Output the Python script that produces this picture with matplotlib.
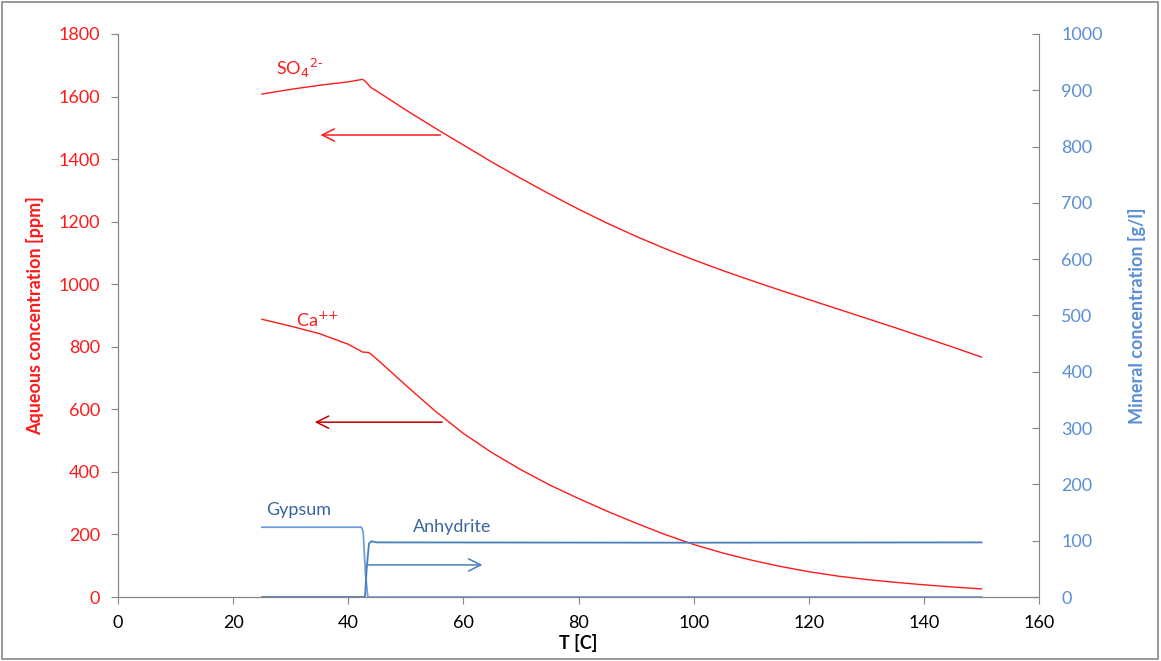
import numpy as np
import matplotlib.pyplot as plt
from matplotlib.patches import Rectangle

plt.rcParams['font.family'] = ['Lato', 'DejaVu Sans']

# aqueous species [ppm]
t_so4 = [25, 30, 35, 40, 42.5, 43, 44, 45, 50, 55, 60, 65, 70, 75, 80, 85, 90, 95,
         100, 105, 110, 115, 120, 125, 130, 135, 140, 145, 150]
so4 = [1608, 1623, 1636, 1647, 1655, 1648, 1628, 1617, 1557, 1500, 1445, 1390, 1338,
       1288, 1240, 1195, 1153, 1114, 1078, 1044, 1012, 981, 951, 921, 891, 861, 830,
       799, 767]

t_ca = [25, 30, 35, 40, 42.5, 43.5, 44, 45, 50, 55, 60, 65, 70, 75, 80, 85, 90, 95,
        100, 105, 110, 115, 120, 125, 130, 135, 140, 145, 150]
ca = [888, 866, 842, 808, 783, 782, 776, 760, 677, 596, 523, 461, 407, 358, 315, 274,
      236, 200, 168, 141, 118, 98, 81, 67, 56, 47, 39, 32, 26]

# minerals [g/l]
t_gyp = [25, 42.3, 42.6, 43.0, 43.4, 150]
gypsum = [124, 124, 115, 40, 0, 0]
t_anh = [25, 42.9, 43.2, 43.6, 44.0, 45, 100, 150]
anhydrite = [0, 0, 50, 95, 99, 97, 96.5, 97]

red = '#FF1A1A'
blue = '#4A7EBB'
lblue = '#5B8ED6'
grey = '#868686'

fig = plt.figure(figsize=(11.61, 6.61), dpi=100)
ax = fig.add_axes([0.1016, 0.0968, 0.7934, 0.8518])
ax2 = ax.twinx()

ax.plot(t_so4, so4, color=red, lw=1.0)
ax.plot(t_ca, ca, color=red, lw=1.0)
ax2.plot(t_gyp, gypsum, color='#6E9FDC', lw=1.3)
ax2.plot(t_anh, anhydrite, color=blue, lw=1.3)

ax.set_xlim(0, 160)
ax.set_ylim(0, 1800)
ax2.set_ylim(0, 1000)
ax.set_xticks(np.arange(0, 161, 20))
ax.set_yticks(np.arange(0, 1801, 200))
ax2.set_yticks(np.arange(0, 1001, 100))

# arrows
arr = dict(arrowstyle='->', mutation_scale=22, lw=1.1)
ax.annotate('', xy=(34.7, 1477), xytext=(56.5, 1477),
            arrowprops=dict(arr, color=red))
ax.annotate('', xy=(33.7, 559), xytext=(56.8, 559),
            arrowprops=dict(arr, color='#C00000'))
ax2.annotate('', xy=(63.8, 57), xytext=(42.9, 57),
             arrowprops=dict(arr, color=blue))

ax.text(27.5, 1690, r'SO$_4$$^{2\text{-}}$', color=red, fontsize=13, va='center')
ax.text(30.9, 885, r'Ca$^{{+}{+}}$', color=red, fontsize=13, va='center')
ax2.text(25.8, 154, 'Gypsum', color='#3A66A0', fontsize=13, va='center')
ax2.text(51.2, 125, 'Anhydrite', color='#3A66A0', fontsize=13, va='center')

for a in (ax, ax2):
    a.spines['top'].set_visible(False)
    for s in a.spines.values():
        s.set_color(grey)
ax.spines['right'].set_visible(False)

ax.tick_params(axis='x', direction='out', length=5, color=grey, labelsize=13,
               labelcolor='black', pad=8)
ax.tick_params(axis='y', direction='out', length=5, color=grey, labelsize=13,
               labelcolor=red, pad=8)
ax2.tick_params(axis='y', direction='in', length=5, color=grey, labelsize=13,
                labelcolor=lblue, pad=16)

ax.set_xlabel('T [C]', fontsize=13, fontweight='bold', labelpad=2)
ax.set_ylabel('Aqueous concentration [ppm]', fontsize=13, fontweight='bold',
              color=red, labelpad=10)
ax2.set_ylabel('Mineral concentration [g/l]', fontsize=13, fontweight='bold',
               color=lblue, labelpad=18)

fig.patches.append(Rectangle((0.002, 0.003), 0.995, 0.994, transform=fig.transFigure,
                             fill=False, edgecolor='#888888', lw=1.2))

fig.savefig('out.png', dpi=100)
